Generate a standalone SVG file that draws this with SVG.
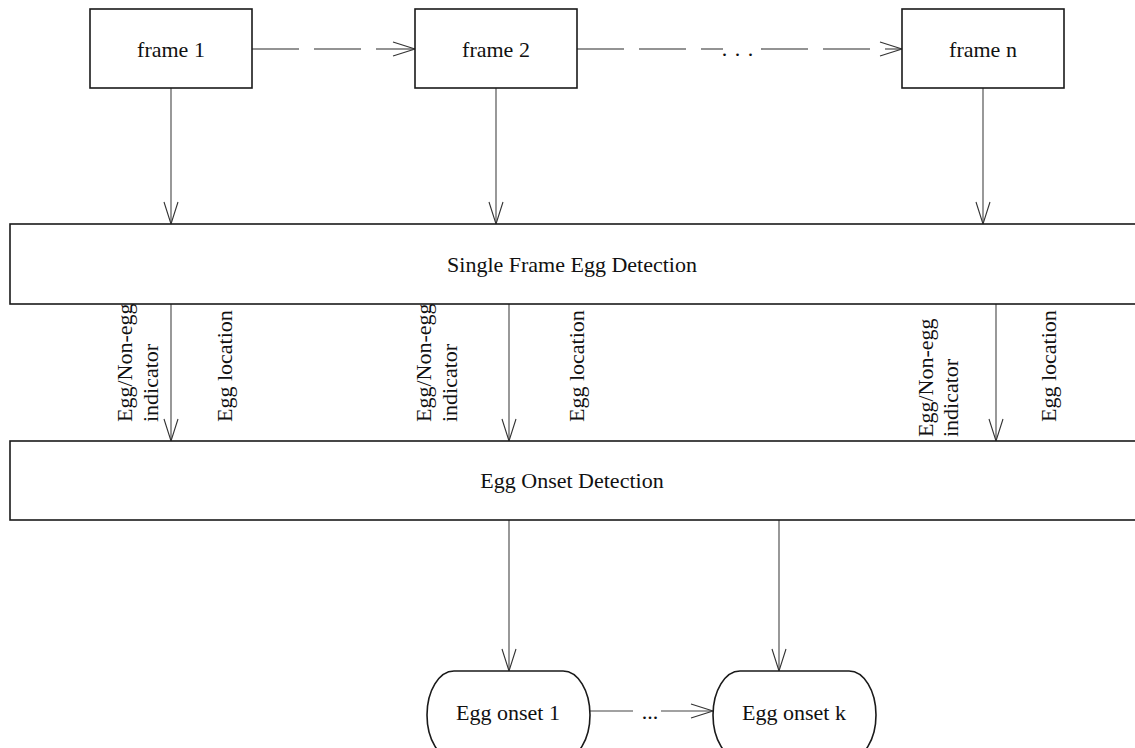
<svg xmlns="http://www.w3.org/2000/svg" width="1135" height="748" viewBox="0 0 1135 748">
<style>
  .box { fill: #fff; stroke: #1a1a1a; stroke-width: 1.6; }
  .conn { fill: none; stroke: #444; stroke-width: 1.1; }
  .dash { fill: none; stroke: #707070; stroke-width: 1.6; stroke-dasharray: 47 15; }
  .t { font-family: "Liberation Serif", "Times New Roman", serif; font-size: 22px; fill: #111; }
  .c { text-anchor: middle; }
</style>
<defs>
  <marker id="arr" markerUnits="userSpaceOnUse" markerWidth="24" markerHeight="16" refX="22" refY="7" orient="auto" viewBox="-1 -1 24 16">
    <path d="M0,0 L22,7 L0,14" fill="none" stroke="#333" stroke-width="1.1"/>
  </marker>
</defs>
<rect width="1135" height="748" fill="#fff"/>
<g id="connectors">
  <path class="dash" d="M252,49 H415" marker-end="url(#arr)"/>
  <path class="dash" d="M577,49 H723"/>
  <path class="dash" d="M761,49 H902" marker-end="url(#arr)"/>
  <text class="t c" x="738" y="56" letter-spacing="1">. . .</text>
  <path class="conn" d="M171,88 V224" marker-end="url(#arr)"/>
  <path class="conn" d="M496,88 V224" marker-end="url(#arr)"/>
  <path class="conn" d="M983,88 V224" marker-end="url(#arr)"/>
  <path class="conn" d="M171,304 V441" marker-end="url(#arr)"/>
  <path class="conn" d="M509,304 V441" marker-end="url(#arr)"/>
  <path class="conn" d="M996,304 V441" marker-end="url(#arr)"/>
  <path class="conn" d="M509,520 V671" marker-end="url(#arr)"/>
  <path class="conn" d="M779,520 V671" marker-end="url(#arr)"/>
  <path class="conn" d="M590,711 H633"/>
  <path class="conn" d="M661,711 H713" marker-end="url(#arr)"/>
  <text class="t c" x="650" y="719">...</text>
  <text class="t" transform="translate(132,422) rotate(-90)">Egg/Non-egg</text>
  <text class="t" transform="translate(158,422) rotate(-90)">indicator</text>
  <text class="t" transform="translate(232,422) rotate(-90)">Egg location</text>
  <text class="t" transform="translate(431,422) rotate(-90)">Egg/Non-egg</text>
  <text class="t" transform="translate(457,422) rotate(-90)">indicator</text>
  <text class="t" transform="translate(584,422) rotate(-90)">Egg location</text>
  <text class="t" transform="translate(933,437) rotate(-90)">Egg/Non-egg</text>
  <text class="t" transform="translate(958,437) rotate(-90)">indicator</text>
  <text class="t" transform="translate(1056,422) rotate(-90)">Egg location</text>
</g>
<g id="frame1">
  <rect class="box" x="90" y="9" width="162" height="79"/>
  <text class="t c" x="171" y="57">frame 1</text>
</g>
<g id="frame2">
  <rect class="box" x="415" y="9" width="162" height="79"/>
  <text class="t c" x="496" y="57">frame 2</text>
</g>
<g id="framen">
  <rect class="box" x="902" y="9" width="162" height="79"/>
  <text class="t c" x="983" y="57">frame n</text>
</g>
<g id="single-frame">
  <rect class="box" x="10" y="224" width="1135" height="80"/>
  <text class="t c" x="572" y="272">Single Frame Egg Detection</text>
</g>
<g id="onset-detection">
  <rect class="box" x="10" y="441" width="1135" height="79"/>
  <text class="t c" x="572" y="488">Egg Onset Detection</text>
</g>
<g id="onset1">
  <rect class="box" x="427" y="671" width="163" height="88" rx="27" ry="44"/>
  <text class="t c" x="508" y="720">Egg onset 1</text>
</g>
<g id="onsetk">
  <rect class="box" x="713" y="671" width="163" height="88" rx="27" ry="44"/>
  <text class="t c" x="794" y="720">Egg onset k</text>
</g>
</svg>
